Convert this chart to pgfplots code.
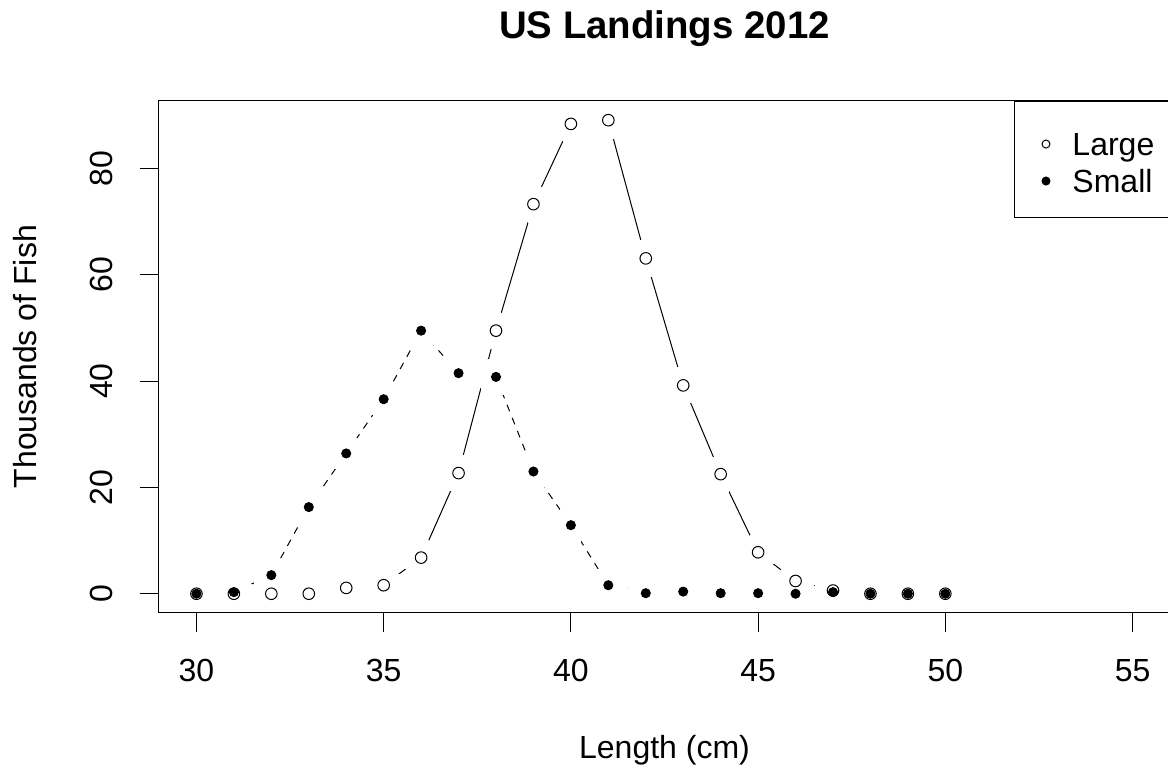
\documentclass[border=0pt]{standalone}
\usepackage{fontspec}
\setmainfont{Liberation Sans}
\usepackage{pgfplots}
\pgfplotsset{compat=1.18}
\usepackage{pgfplotstable}

\pgfplotstableread{
x L S
30 0 0
31 0 0.3
32 0 3.5
33 0 16.3
34 1.1 26.4
35 1.6 36.6
36 6.8 49.5
37 22.7 41.5
38 49.5 40.8
39 73.3 23.0
40 88.4 12.9
41 89.1 1.6
42 63.1 0.1
43 39.2 0.4
44 22.5 0.1
45 7.8 0.1
46 2.4 0
47 0.6 0.3
48 0 0
49 0 0
50 0 0
}\landings

\begin{document}
\begin{tikzpicture}
\begin{axis}[
  name=ax,
  set layers=axis on top,
  scale only axis, width=505.5pt, height=256pt,
  xmin=29, xmax=56, ymin=-3.57, ymax=92.77,
  xtick={30,35,...,55}, ytick={0,20,...,80},
  xtick pos=left, ytick pos=left,
  tick align=outside, major tick length=9.5pt,
  axis line style={line width=0.5pt},
  every tick/.style={black, line width=0.5pt},
  /pgf/number format/assume math mode=true,
  tick label style={font=\fontsize{16}{19.2}\selectfont},
  xticklabel style={anchor=base, yshift=-25pt},
  yticklabel style={xshift=-13.5pt, rotate=90, anchor=base},
  label style={font=\fontsize{16}{19.2}\selectfont},
  xlabel={Length (cm)},
  ylabel={Thousands of Fish},
  xlabel style={at={(axis description cs:0.5,-0.2852)}, anchor=base},
  ylabel style={at={(axis description cs:-0.1216,0.5)}, anchor=base},
  title={US Landings 2012},
  title style={at={(axis description cs:0.5,1.0977)}, anchor=base, font=\bfseries\fontsize{19.2}{23}\selectfont},
  axis on top,
  legend cell align=left,
  legend image code/.code={\path (-15.5pt,0pt) (13pt,0pt); \draw[#1] plot coordinates {(0pt,-1.67pt)};},
  legend style={at={(rel axis cs:1,1)}, anchor=north east, draw=black, line width=0.5pt, fill=white,
    inner xsep=0pt, inner ysep=10.5pt, row sep=0pt, column sep=0pt,
    font=\fontsize{16}{19.2}\selectfont,
    nodes={inner sep=0pt, text height=16.65pt, text depth=1.85pt, text width=48.5pt, align=left}},
]
% Small: dashed line with gaps around the points
\addplot[forget plot, black, line width=0.5pt, dash pattern=on 3.5pt off 3.5pt, mark=none] table[x=x,y=S]{\landings};
\addplot[forget plot, white, only marks, mark=*, mark size=9.3pt, mark options={draw=white, fill=white, line width=0pt}] table[x=x,y=S]{\landings};
% Large: solid line with gaps around the points
\addplot[forget plot, black, line width=0.5pt, mark=none] table[x=x,y=L]{\landings};
\addplot[forget plot, white, only marks, mark=*, mark size=9.3pt, mark options={draw=white, fill=white, line width=0pt}] table[x=x,y=L]{\landings};
% points
\addplot[forget plot, only marks, mark=o, mark size=2.9pt, line width=0.5pt, black] table[x=x,y=L]{\landings};
\addplot[forget plot, only marks, mark=*, mark size=2.3pt, black, mark options={fill=black}] table[x=x,y=S]{\landings};
% legend
\addlegendimage{only marks, mark=o, mark size=2pt, line width=0.5pt, black}
\addlegendentry{Large}
\addlegendimage{only marks, mark=*, mark size=2pt, black, mark options={fill=black}}
\addlegendentry{Small}
\end{axis}
\pgfresetboundingbox
\path ([xshift=-79.5pt,yshift=-80.15pt]ax.south west) rectangle ([xshift=504.5pt,yshift=306.35pt]ax.south west);
\end{tikzpicture}
\end{document}
